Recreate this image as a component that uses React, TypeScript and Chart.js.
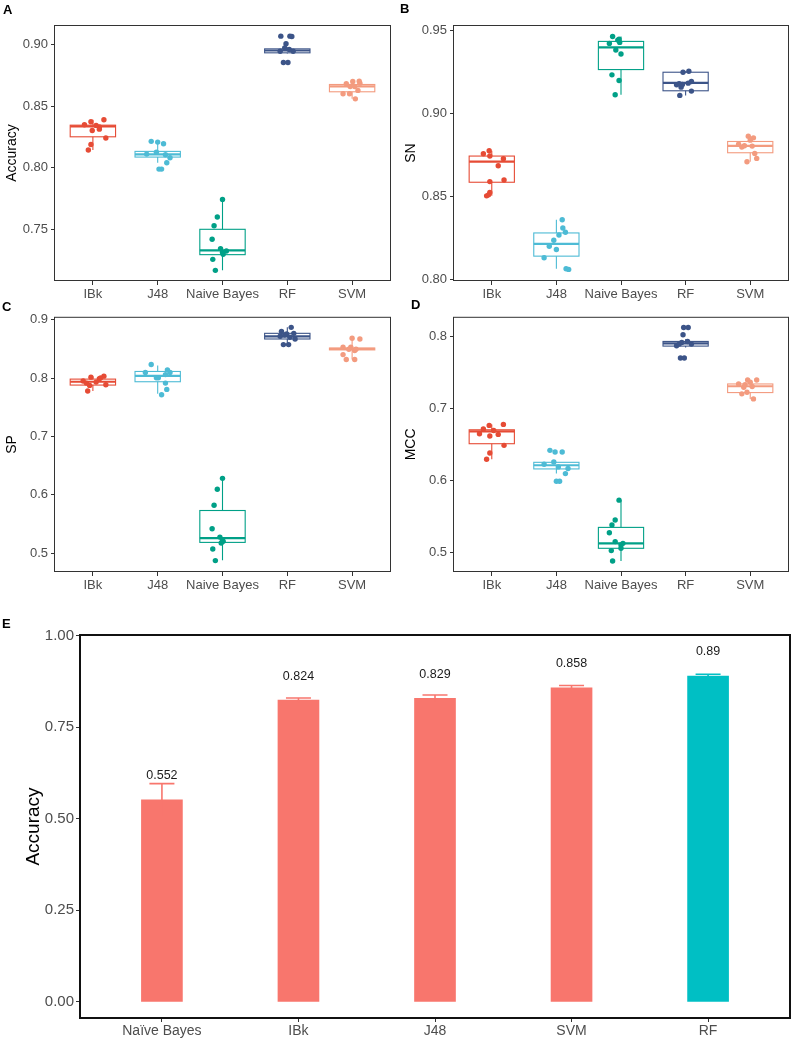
import React, { useEffect, useRef } from "react";
import { Chart, registerables } from "chart.js";
Chart.register(...registerables);

const FONT = "'Liberation Sans', Arial, Helvetica, sans-serif";

const boxCategories = ["IBk", "J48", "Naive Bayes", "RF", "SVM"];
const boxColors = ["#E64B35", "#4DBBD5", "#00A087", "#3C5488", "#F39B7F"];

// ---- Panel A: Accuracy ----
const accTicks = [0.75, 0.8, 0.85, 0.9];
const accValues = [
  [0.8348, 0.8373, 0.833, 0.8389, 0.8302, 0.8313, 0.8241, 0.8189, 0.8144, 0.8343],
  [0.8214, 0.8208, 0.8195, 0.8111, 0.8127, 0.8106, 0.8082, 0.8041, 0.799, 0.799],
  [0.7745, 0.7602, 0.7532, 0.7422, 0.7347, 0.7317, 0.7301, 0.726, 0.7171, 0.7328],
  [0.9065, 0.9065, 0.9062, 0.9003, 0.897, 0.8943, 0.8943, 0.8852, 0.8852, 0.8957],
  [0.8698, 0.8701, 0.868, 0.8658, 0.8658, 0.8626, 0.8599, 0.8599, 0.8558, 0.8685],
];
const accJitter = [
  [-0.13, -0.03, 0.1, 0.17, -0.01, 0.1, 0.2, -0.03, -0.07, 0.05],
  [-0.1, 0.0, 0.09, -0.17, -0.02, 0.12, 0.19, 0.14, 0.02, 0.06],
  [0.0, -0.08, -0.13, -0.16, -0.03, 0.0, 0.01, -0.15, -0.11, 0.06],
  [-0.1, 0.04, 0.07, -0.02, -0.04, -0.11, 0.09, -0.06, 0.01, 0.03],
  [0.01, 0.11, -0.09, -0.03, 0.04, 0.09, -0.14, -0.04, 0.05, 0.12],
];
const accQ1 = [0.8251, 0.8087, 0.7298, 0.893, 0.8615];
const accMedian = [0.8335, 0.8109, 0.7333, 0.8949, 0.8658];
const accQ3 = [0.8345, 0.8133, 0.7503, 0.8962, 0.8674];
const accWhiskerLow = [0.8144, 0.8041, 0.7171, 0.8925, 0.8558];
const accWhiskerHigh = [0.8389, 0.8195, 0.7745, 0.8975, 0.8701];

// ---- Panel B: SN ----
const snTicks = [0.8, 0.85, 0.9, 0.95];
const snValues = [
  [0.8758, 0.8776, 0.8744, 0.8728, 0.8686, 0.859, 0.86, 0.8524, 0.8504, 0.851],
  [0.836, 0.831, 0.8284, 0.8268, 0.8236, 0.82, 0.818, 0.813, 0.8064, 0.806],
  [0.9466, 0.945, 0.9424, 0.943, 0.9384, 0.936, 0.9234, 0.92, 0.9114, 0.9444],
  [0.925, 0.9256, 0.9194, 0.9174, 0.916, 0.9136, 0.911, 0.9176, 0.918, 0.9184],
  [0.8864, 0.8854, 0.8816, 0.8804, 0.8798, 0.876, 0.871, 0.873, 0.884, 0.8806],
];
const snJitter = [
  [-0.13, -0.04, -0.03, 0.18, 0.1, -0.03, 0.19, -0.03, -0.08, -0.05],
  [0.09, 0.1, 0.14, 0.04, -0.04, -0.11, 0.0, -0.19, 0.15, 0.19],
  [-0.13, -0.03, -0.18, -0.02, -0.08, 0.0, -0.14, -0.03, -0.09, -0.05],
  [-0.04, 0.05, 0.09, -0.14, -0.07, 0.09, -0.09, -0.05, -0.1, 0.04],
  [-0.03, 0.05, -0.18, 0.03, -0.13, 0.07, -0.05, 0.1, 0.0, -0.09],
];
const snQ1 = [0.8586, 0.814, 0.9266, 0.9138, 0.8764];
const snMedian = [0.871, 0.8214, 0.94, 0.9186, 0.8806];
const snQ3 = [0.8744, 0.828, 0.9436, 0.925, 0.8832];
const snWhiskerLow = [0.8504, 0.8064, 0.9114, 0.911, 0.871];
const snWhiskerHigh = [0.8776, 0.836, 0.9466, 0.9256, 0.8864];

// ---- Panel C: SP ----
const spTicks = [0.5, 0.6, 0.7, 0.8, 0.9];
const spValues = [
  [0.795, 0.8017, 0.799, 0.8034, 0.7875, 0.778, 0.7886, 0.7932, 0.8005, 0.7915],
  [0.8233, 0.8097, 0.8006, 0.8142, 0.8097, 0.806, 0.7915, 0.7807, 0.7716, 0.8006],
  [0.6284, 0.6097, 0.5824, 0.542, 0.5278, 0.5233, 0.5176, 0.5074, 0.4875, 0.5205],
  [0.8869, 0.8801, 0.8756, 0.8767, 0.8716, 0.87, 0.867, 0.8574, 0.8574, 0.8739],
  [0.8682, 0.867, 0.8528, 0.8528, 0.8472, 0.8403, 0.8318, 0.8318, 0.8494, 0.8494],
];
const spJitter = [
  [-0.15, -0.03, 0.1, 0.17, -0.05, -0.08, 0.2, 0.05, 0.12, -0.1],
  [-0.1, -0.19, 0.01, 0.15, 0.19, 0.12, 0.12, 0.14, 0.06, -0.02],
  [0.0, -0.08, -0.13, -0.16, -0.04, 0.0, -0.02, -0.15, -0.11, 0.01],
  [0.06, -0.09, -0.01, 0.1, -0.11, 0.04, 0.12, -0.06, 0.02, -0.04],
  [0.0, 0.12, -0.14, -0.02, 0.04, -0.14, -0.09, 0.04, 0.06, -0.05],
];
const spQ1 = [0.7881, 0.7938, 0.5187, 0.867, 0.8483];
const spMedian = [0.7938, 0.804, 0.5261, 0.8716, 0.85];
const spQ3 = [0.7983, 0.8114, 0.5733, 0.8767, 0.8515];
const spWhiskerLow = [0.778, 0.7733, 0.4881, 0.8574, 0.8318];
const spWhiskerHigh = [0.8034, 0.8216, 0.6284, 0.8869, 0.8682];

// ---- Panel D: MCC ----
const mccTicks = [0.5, 0.6, 0.7, 0.8];
const mccValues = [
  [0.6715, 0.6766, 0.678, 0.6618, 0.6641, 0.6488, 0.6382, 0.6294, 0.6696, 0.665],
  [0.6419, 0.6396, 0.6396, 0.6257, 0.6225, 0.6165, 0.6095, 0.5989, 0.5989, 0.6188],
  [0.5725, 0.5448, 0.5379, 0.5272, 0.5148, 0.5101, 0.5023, 0.5055, 0.4879, 0.5124],
  [0.8129, 0.8129, 0.8028, 0.7875, 0.7921, 0.7898, 0.7704, 0.7704, 0.7935, 0.7898],
  [0.7399, 0.7399, 0.7343, 0.7307, 0.7297, 0.7205, 0.7228, 0.7135, 0.7367, 0.7334],
];
const mccJitter = [
  [-0.13, -0.04, 0.18, -0.03, 0.1, 0.19, -0.03, -0.08, 0.03, -0.19],
  [-0.1, -0.02, 0.09, -0.04, -0.19, 0.18, 0.14, 0.0, 0.05, 0.03],
  [-0.03, -0.09, -0.14, -0.18, -0.09, 0.0, -0.15, 0.0, -0.13, 0.03],
  [-0.03, 0.04, -0.04, -0.14, -0.06, 0.09, -0.08, -0.02, 0.03, -0.1],
  [-0.04, 0.1, -0.18, 0.03, -0.1, -0.13, -0.05, 0.05, 0.0, -0.08],
];
const mccQ1 = [0.6511, 0.616, 0.5055, 0.787, 0.7223];
const mccMedian = [0.6682, 0.6211, 0.5124, 0.7908, 0.7311];
const mccQ3 = [0.6705, 0.6252, 0.5346, 0.7935, 0.7343];
const mccWhiskerLow = [0.6294, 0.6095, 0.4879, 0.785, 0.7135];
const mccWhiskerHigh = [0.678, 0.6257, 0.5725, 0.7965, 0.7399];

// ---- Panel E: bar chart ----
const barCategories = ["Naïve Bayes", "IBk", "J48", "SVM", "RF"];
const barMeans = [0.552, 0.824, 0.829, 0.858, 0.89];
const barSd = [0.044, 0.006, 0.009, 0.006, 0.005];
const barLabels = ["0.552", "0.824", "0.829", "0.858", "0.89"];
const barColors = ["#F8766D", "#F8766D", "#F8766D", "#F8766D", "#00BFC4"];
const barTicks = [0, 0.25, 0.5, 0.75, 1.0];

type BoxProps = {
  left: number; top: number; width: number; height: number;
  plot: [number, number, number, number];
  yMin: number; yMax: number; yTicks: number[]; digits: number; yTitle: string;
  values: number[][]; jitter: number[][];
  q1: number[]; med: number[]; q3: number[]; wlo: number[]; whi: number[];
};

function BoxPanel(p: BoxProps) {
  const ref = useRef<HTMLCanvasElement>(null);
  useEffect(() => {
    const [pl, pt, pr, pb] = p.plot;
    const font = { family: FONT, size: 13 };
    const overlay = {
      id: "boxOverlay",
      beforeDatasetsDraw(chart: any) {
        const ctx = chart.ctx, xs = chart.scales.x, ys = chart.scales.y;
        ctx.save();
        p.q1.forEach((_, i) => {
          const c = boxColors[i];
          const xl = xs.getPixelForValue(i - 0.35);
          const xr = xs.getPixelForValue(i + 0.35);
          const xc = xs.getPixelForValue(i);
          const y1 = ys.getPixelForValue(p.q1[i]);
          const y3 = ys.getPixelForValue(p.q3[i]);
          const ym = ys.getPixelForValue(p.med[i]);
          const ylo = ys.getPixelForValue(p.wlo[i]);
          const yhi = ys.getPixelForValue(p.whi[i]);
          ctx.strokeStyle = c;
          ctx.lineWidth = 1.1;
          ctx.beginPath();
          ctx.moveTo(xc, yhi); ctx.lineTo(xc, y3);
          ctx.moveTo(xc, y1); ctx.lineTo(xc, ylo);
          ctx.stroke();
          ctx.strokeRect(xl, y3, xr - xl, y1 - y3);
          ctx.lineWidth = 2.2;
          ctx.beginPath();
          ctx.moveTo(xl, ym); ctx.lineTo(xr, ym);
          ctx.stroke();
        });
        ctx.restore();
      },
      afterDraw(chart: any) {
        const ctx = chart.ctx, a = chart.chartArea;
        ctx.save();
        ctx.strokeStyle = "#333333";
        ctx.lineWidth = 1;
        ctx.strokeRect(a.left + 0.5, a.top + 0.5, a.right - a.left - 1, a.bottom - a.top - 1);
        ctx.translate(a.left - 42, (a.top + a.bottom) / 2);
        ctx.rotate(-Math.PI / 2);
        ctx.fillStyle = "#000";
        ctx.font = `14px ${FONT}`;
        ctx.textAlign = "center";
        ctx.textBaseline = "middle";
        ctx.fillText(p.yTitle, 0, 0);
        ctx.restore();
      },
    };
    const chart = new Chart(ref.current!, {
      type: "scatter",
      data: {
        datasets: p.values.map((vals, i) => ({
          data: vals.map((v, j) => ({ x: i + p.jitter[i][j], y: v })),
          backgroundColor: boxColors[i],
          borderColor: boxColors[i],
          borderWidth: 0,
          pointRadius: 2.7,
        })),
      },
      options: {
        responsive: false,
        animation: false,
        events: [],
        layout: { padding: { top: pt - p.top, right: p.left + p.width - pr, left: 0, bottom: 0 } },
        plugins: { legend: { display: false }, tooltip: { enabled: false } },
        scales: {
          x: {
            type: "linear", min: -0.6, max: 4.6,
            afterBuildTicks: (s: any) => { s.ticks = boxCategories.map((_, i) => ({ value: i })); },
            afterFit: (s: any) => { s.height = p.top + p.height - pb; },
            ticks: {
              callback: (v: any) => boxCategories[Math.round(Number(v))],
              font, color: "#4D4D4D", padding: 2, maxRotation: 0, autoSkip: false,
            },
            grid: { drawOnChartArea: false, drawTicks: true, tickLength: 4, color: "#333333" },
            border: { display: false },
          },
          y: {
            type: "linear", min: p.yMin, max: p.yMax,
            afterBuildTicks: (s: any) => { s.ticks = p.yTicks.map((v) => ({ value: v })); },
            afterFit: (s: any) => { s.width = pl - p.left; },
            ticks: {
              callback: (v: any) => Number(v).toFixed(p.digits),
              font, color: "#4D4D4D", padding: 3,
            },
            grid: { drawOnChartArea: false, drawTicks: true, tickLength: 3, color: "#333333" },
            border: { display: false },
          },
        },
      } as any,
      plugins: [overlay],
    });
    return () => chart.destroy();
  }, []);
  return (
    <canvas
      ref={ref}
      width={p.width}
      height={p.height}
      style={{ position: "absolute", left: p.left, top: p.top, width: p.width, height: p.height }}
    />
  );
}

function BarPanel() {
  const ref = useRef<HTMLCanvasElement>(null);
  const left = 0, top = 596, width = 793, height = 447;
  const plot = [80, 635, 790, 1018];
  useEffect(() => {
    const overlay = {
      id: "barOverlay",
      afterDatasetsDraw(chart: any) {
        const ctx = chart.ctx, xs = chart.scales.x, ys = chart.scales.y;
        ctx.save();
        barMeans.forEach((m, i) => {
          const xc = xs.getPixelForValue(i);
          const yTop = ys.getPixelForValue(m + barSd[i]);
          const yBot = ys.getPixelForValue(m - barSd[i]);
          ctx.strokeStyle = barColors[i];
          ctx.lineWidth = 1.6;
          ctx.beginPath();
          ctx.moveTo(xc, yBot); ctx.lineTo(xc, yTop);
          ctx.moveTo(xc - 12.5, yTop); ctx.lineTo(xc + 12.5, yTop);
          ctx.stroke();
          ctx.fillStyle = "#1a1a1a";
          ctx.font = `12.5px ${FONT}`;
          ctx.textAlign = "center";
          ctx.textBaseline = "middle";
          ctx.fillText(barLabels[i], xc, ys.getPixelForValue(m) - 24);
        });
        ctx.restore();
      },
      afterDraw(chart: any) {
        const ctx = chart.ctx, a = chart.chartArea;
        ctx.save();
        ctx.strokeStyle = "#111";
        ctx.lineWidth = 2;
        ctx.strokeRect(a.left, a.top, a.right - a.left, a.bottom - a.top);
        ctx.translate(34, (a.top + a.bottom) / 2);
        ctx.rotate(-Math.PI / 2);
        ctx.fillStyle = "#000";
        ctx.font = `19px ${FONT}`;
        ctx.textAlign = "center";
        ctx.textBaseline = "middle";
        ctx.fillText("Accuracy", 0, 0);
        ctx.restore();
      },
    };
    const chart = new Chart(ref.current!, {
      type: "bar",
      data: {
        datasets: [{
          data: barMeans.map((v, i) => ({ x: i, y: v })),
          backgroundColor: barColors,
          borderWidth: 0,
          barThickness: 41,
        }],
      },
      options: {
        responsive: false,
        animation: false,
        events: [],
        layout: { padding: { top: plot[1] - top, right: left + width - plot[2], left: 0, bottom: 0 } },
        plugins: { legend: { display: false }, tooltip: { enabled: false } },
        scales: {
          x: {
            type: "linear", min: -0.6, max: 4.6, offset: false,
            afterBuildTicks: (s: any) => { s.ticks = barCategories.map((_, i) => ({ value: i })); },
            afterFit: (s: any) => { s.height = top + height - plot[3]; },
            ticks: {
              callback: (v: any) => barCategories[Math.round(Number(v))],
              font: { family: FONT, size: 14 }, color: "#4D4D4D", padding: 1, maxRotation: 0, autoSkip: false,
            },
            grid: { drawOnChartArea: false, drawTicks: true, tickLength: 4, color: "#333333", offset: false },
            border: { display: false },
          },
          y: {
            type: "linear", min: -0.044, max: 1.002,
            afterBuildTicks: (s: any) => { s.ticks = barTicks.map((v) => ({ value: v })); },
            afterFit: (s: any) => { s.width = plot[0] - left; },
            ticks: {
              callback: (v: any) => Number(v).toFixed(2),
              font: { family: FONT, size: 15 }, color: "#4D4D4D", padding: 2,
            },
            grid: { drawOnChartArea: false, drawTicks: true, tickLength: 4, color: "#333333" },
            border: { display: false },
          },
        },
      } as any,
      plugins: [overlay],
    });
    return () => chart.destroy();
  }, []);
  return (
    <canvas
      ref={ref}
      width={width}
      height={height}
      style={{ position: "absolute", left, top, width, height }}
    />
  );
}

const letterStyle = (left: number, baseline: number): React.CSSProperties => ({
  position: "absolute",
  left,
  top: baseline - 11,
  font: `bold 13px ${FONT}`,
  lineHeight: "13px",
  color: "#000",
});

export default function App() {
  return (
    <div style={{ position: "absolute", left: 0, top: 0, width: 793, height: 1043, background: "#fff", overflow: "hidden" }}>
      <BoxPanel left={0} top={0} width={396} height={306} plot={[54, 25, 391, 281]}
        yMin={0.7085} yMax={0.9155} yTicks={accTicks} digits={2} yTitle="Accuracy"
        values={accValues} jitter={accJitter} q1={accQ1} med={accMedian} q3={accQ3}
        wlo={accWhiskerLow} whi={accWhiskerHigh} />
      <BoxPanel left={396} top={0} width={397} height={306} plot={[453, 25, 789, 281]}
        yMin={0.799} yMax={0.9535} yTicks={snTicks} digits={2} yTitle="SN"
        values={snValues} jitter={snJitter} q1={snQ1} med={snMedian} q3={snQ3}
        wlo={snWhiskerLow} whi={snWhiskerHigh} />
      <BoxPanel left={0} top={306} width={396} height={290} plot={[54, 316, 391, 572]}
        yMin={0.468} yMax={0.905} yTicks={spTicks} digits={1} yTitle="SP"
        values={spValues} jitter={spJitter} q1={spQ1} med={spMedian} q3={spQ3}
        wlo={spWhiskerLow} whi={spWhiskerHigh} />
      <BoxPanel left={396} top={306} width={397} height={290} plot={[453, 316, 789, 572]}
        yMin={0.4725} yMax={0.8278} yTicks={mccTicks} digits={1} yTitle="MCC"
        values={mccValues} jitter={mccJitter} q1={mccQ1} med={mccMedian} q3={mccQ3}
        wlo={mccWhiskerLow} whi={mccWhiskerHigh} />
      <BarPanel />
      <div style={letterStyle(3, 14)}>A</div>
      <div style={letterStyle(400, 13)}>B</div>
      <div style={letterStyle(2, 311)}>C</div>
      <div style={letterStyle(411, 309)}>D</div>
      <div style={letterStyle(2, 628)}>E</div>
    </div>
  );
}
